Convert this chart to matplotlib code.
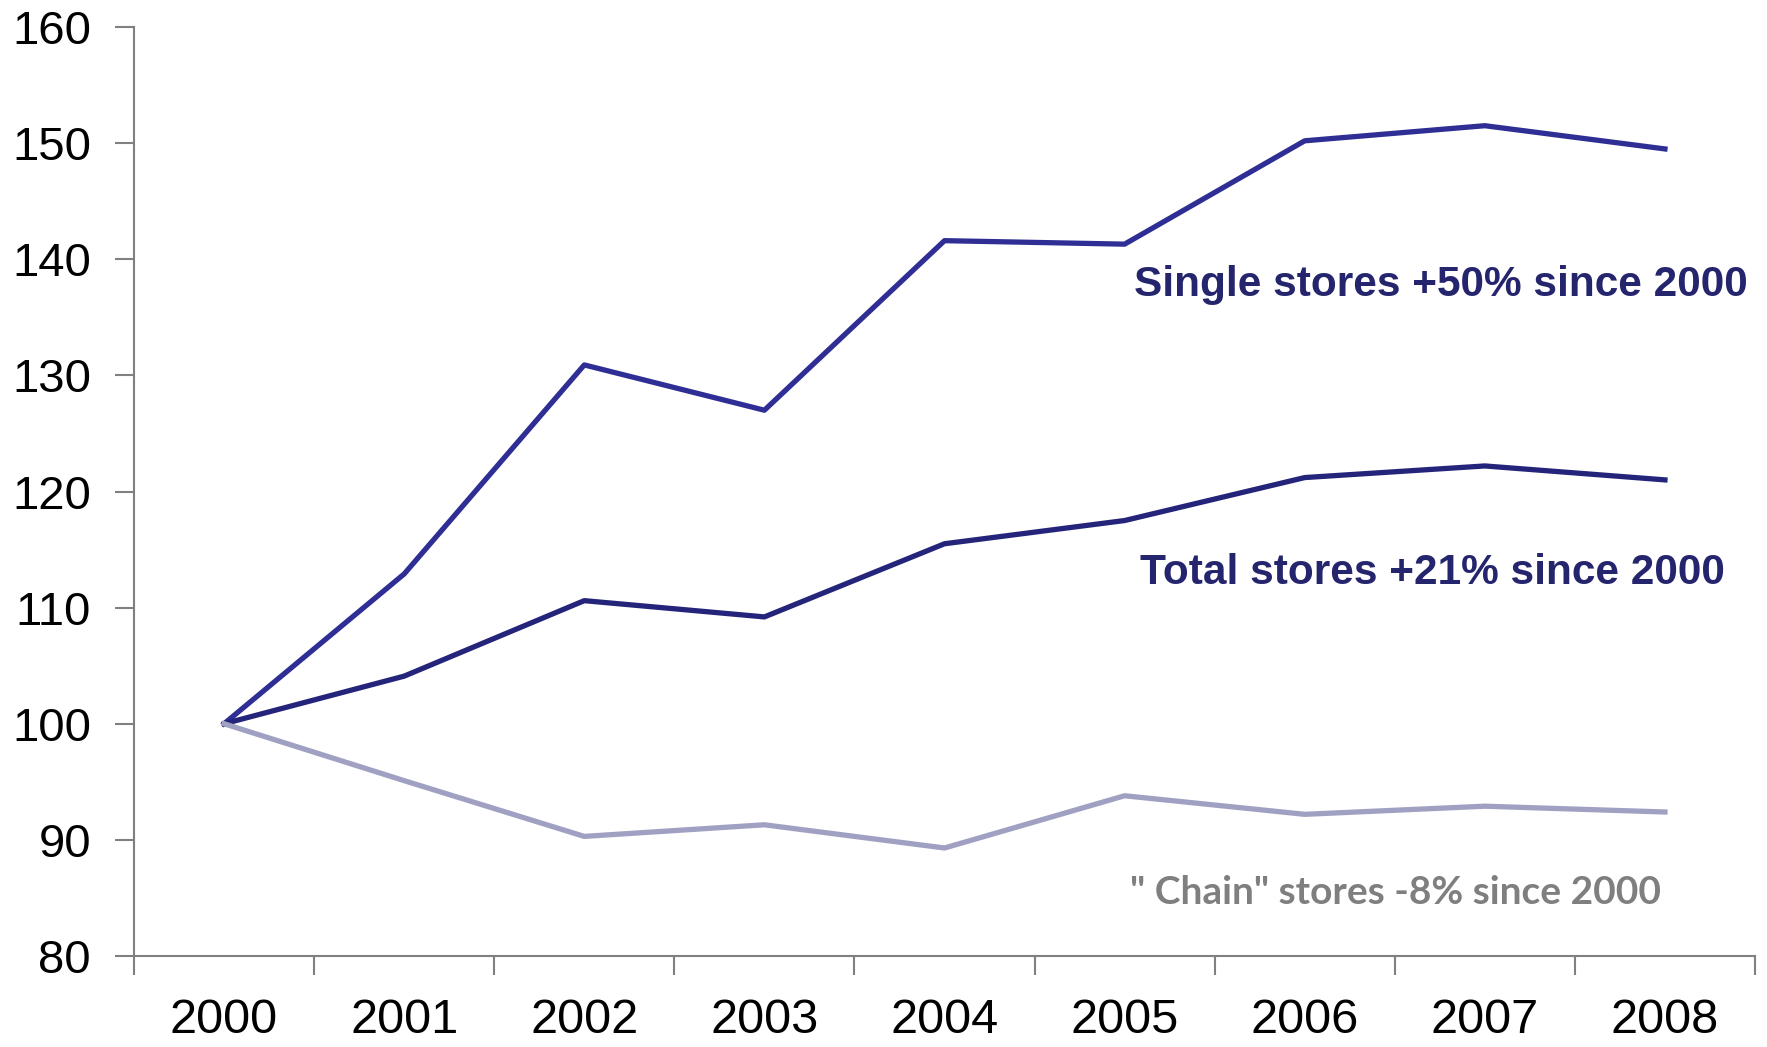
import matplotlib
matplotlib.use("Agg")
import matplotlib.pyplot as plt

years = ["2000", "2001", "2002", "2003", "2004", "2005", "2006", "2007", "2008"]
single = [100, 112.9, 130.9, 127.0, 141.6, 141.3, 150.2, 151.5, 149.5]
total = [100, 104.1, 110.6, 109.2, 115.5, 117.5, 121.2, 122.2, 121.0]
chain = [100, 95.1, 90.3, 91.3, 89.3, 93.8, 92.2, 92.9, 92.4]

plt.rcParams['font.family'] = ['Liberation Sans', 'DejaVu Sans']

fig = plt.figure(figsize=(17.67, 10.47), dpi=100)
ax = fig.add_axes([134 / 1767, 1 - 956 / 1047, (1755 - 134) / 1767, (956 - 27) / 1047])

x = range(len(years))
ax.plot(x, single, color='#2e2e94', lw=3.8, solid_joinstyle='round')
ax.plot(x, total, color='#24247a', lw=3.8, solid_joinstyle='round')
ax.plot(x, chain, color='#a0a0c2', lw=3.8, solid_joinstyle='round')

ax.set_xlim(-0.5, 8.5)
ax.set_ylim(80, 160)
ax.set_yticks(range(80, 161, 10))
# category ticks sit between the years, labels centred on each year
ax.set_xticks([i - 0.5 for i in range(10)], minor=False)
ax.set_xticklabels([])
ax.set_xticks(list(x), minor=True)
ax.set_xticklabels(years, minor=True)
ax.tick_params(axis='x', which='minor', length=0, labelsize=35, pad=30)
ax.tick_params(axis='x', which='major', length=14, width=1.5, color='#808080')
ax.tick_params(axis='y', length=14, width=1.5, color='#808080', labelsize=34, pad=17)

for s in ['top', 'right']:
    ax.spines[s].set_visible(False)
for s in ['left', 'bottom']:
    ax.spines[s].set_color('#808080')
    ax.spines[s].set_linewidth(1.5)

ax.text(8.46, 137.8, "Single stores +50% since 2000", ha='right', va='center',
        fontsize=30.5, fontweight='bold', color='#25256e')
ax.text(8.33, 113.0, "Total stores +21% since 2000", ha='right', va='center',
        fontsize=30.5, fontweight='bold', color='#25256e')
ax.text(7.98, 85.5, "\" Chain\" stores -8% since 2000", ha='right', va='center',
        fontsize=28, fontweight='bold', color='#7f7f7f', family=['Lato', 'DejaVu Sans'])

fig.savefig("out.png", dpi=100)
